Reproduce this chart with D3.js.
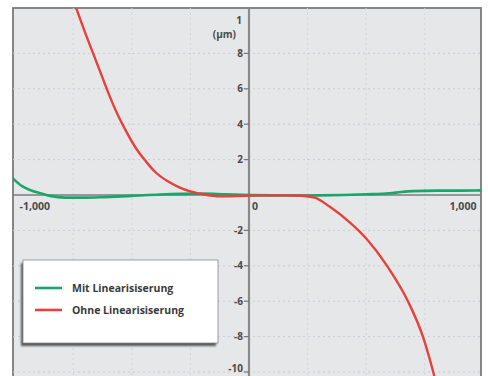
<!DOCTYPE html>
<html><head><meta charset="utf-8">
<script src="https://cdn.jsdelivr.net/npm/d3@7"></script>
<style>body{margin:0;background:#fff}svg{display:block}</style>
</head><body>
<svg id="c" width="488" height="376"></svg>
<script>
const seriesNames = ["Mit Linearisiserung", "Ohne Linearisiserung"];
const seriesColors = ["#1aa56a", "#e8403a"];
const greenX = [-1010,-968,-934,-891,-849,-785,-700,-620,-500,-380,-200,-100,0,100,200,300,400,500,600,650,700,800,900,1000];
const greenY = [0.97,0.5,0.28,0.1,-0.05,-0.15,-0.15,-0.12,-0.05,0.03,0.08,0.04,0,-0.02,-0.03,-0.02,0,0.04,0.1,0.17,0.22,0.25,0.25,0.26];
const redX = [-770,-733,-700,-665,-630,-595,-559,-520,-480,-440,-400,-350,-300,-250,-200,-124,0,150,220,280,345,431,503,589,678,742,780,805];
const redY = [11.8,10.4,9.2,8.0,6.8,5.6,4.5,3.5,2.6,1.9,1.3,0.8,0.45,0.2,0.05,-0.08,-0.04,-0.02,-0.04,-0.15,-0.67,-1.56,-2.5,-4,-6,-8,-9.7,-11.0];
const yTicks = [8,6,4,2,-2,-4,-6,-8,-10];
const xGrid = [-750,-500,-250,250,500,750];
const xLabels = [{v:-1000,t:"-1,000"},{v:0,t:"0"},{v:1000,t:"1,000"}];
const unitLabel = "(µm)";
const topLabel = "1";

const svg = d3.select("#c");
const L=13, R=481, T=8, B=378;
const x = d3.scaleLinear().domain([-1000,1000]).range([14.6,483.4]);
const y = d3.scaleLinear().domain([0,-10]).range([195,372]);

const defs = svg.append("defs");
defs.append("clipPath").attr("id","pc")
  .append("rect").attr("x",L).attr("y",T).attr("width",R-L).attr("height",B-T);

svg.append("rect").attr("x",L).attr("y",T).attr("width",R-L).attr("height",B-T)
  .attr("fill","#e6e7e9").attr("stroke","#7a7a7a").attr("stroke-width",1.8);

const g = svg.append("g").attr("clip-path","url(#pc)");
g.selectAll(".hg").data(yTicks).join("line")
  .attr("x1",L).attr("x2",R).attr("y1",d=>y(d)).attr("y2",d=>y(d))
  .attr("stroke","#c9ccd0").attr("stroke-width",1).attr("stroke-dasharray","2,3");
g.selectAll(".vg").data(xGrid).join("line")
  .attr("x1",d=>x(d)).attr("x2",d=>x(d)).attr("y1",T).attr("y2",B)
  .attr("stroke","#d2d4d8").attr("stroke-width",1).attr("stroke-dasharray","2,3");

g.append("line").attr("x1",L).attr("x2",R).attr("y1",y(0)).attr("y2",y(0))
  .attr("stroke","#7d7d7d").attr("stroke-width",1.5);
g.append("line").attr("x1",x(0)).attr("x2",x(0)).attr("y1",T).attr("y2",B)
  .attr("stroke","#8a8a8a").attr("stroke-width",2.2);

g.selectAll(".yt").data(yTicks).join("line")
  .attr("x1",x(0)-5).attr("x2",x(0)).attr("y1",d=>y(d)).attr("y2",d=>y(d))
  .attr("stroke","#777").attr("stroke-width",1.2);

const font = "'Open Sans', 'DejaVu Sans', sans-serif";
svg.selectAll(".yl").data(yTicks).join("text")
  .attr("x",x(0)-6).attr("y",d=>Math.min(y(d),368)).attr("dy","0.35em")
  .attr("text-anchor","end").attr("font-family",font).attr("font-weight","bold")
  .attr("font-size",10).attr("fill","#4a4a4a").text(d=>d);
svg.append("text").attr("x",x(0)-13).attr("y",38).attr("text-anchor","end")
  .attr("font-family",font).attr("font-weight","bold").attr("font-size",10).attr("fill","#4a4a4a").text(unitLabel);
svg.append("text").attr("x",x(0)-7).attr("y",24).attr("text-anchor","end")
  .attr("font-family",font).attr("font-weight","bold").attr("font-size",10).attr("fill","#4a4a4a").text(topLabel);

svg.selectAll(".xl").data(xLabels).join("text")
  .attr("x",d=>d.v<0? x(d.v)+5 : d.v>0 ? x(d.v)-7 : x(d.v)+3)
  .attr("y",y(0)+15)
  .attr("text-anchor",d=>d.v>0?"end":"start")
  .attr("font-family",font).attr("font-weight","bold").attr("font-size",10.5).attr("fill","#4a4a4a").text(d=>d.t);

const line = d3.line().x(d=>x(d[0])).y(d=>y(d[1])).curve(d3.curveMonotoneX);
g.append("path").datum(greenX.map((v,i)=>[v,greenY[i]]))
  .attr("d",line).attr("fill","none").attr("stroke",seriesColors[0]).attr("stroke-width",2.6);
g.append("path").datum(redX.map((v,i)=>[v,redY[i]]))
  .attr("d",line).attr("fill","none").attr("stroke",seriesColors[1]).attr("stroke-width",2.4);

const lg = svg.append("g");
const f = defs.append("filter").attr("id","sh").attr("x","-20%").attr("y","-20%").attr("width","140%").attr("height","140%");
f.append("feGaussianBlur").attr("stdDeviation",1.2);
lg.append("rect").attr("x",21).attr("y",263).attr("width",195).attr("height",83)
  .attr("fill","#555").attr("filter","url(#sh)");
lg.append("rect").attr("x",23).attr("y",260).attr("width",195).attr("height",83)
  .attr("fill","#fff").attr("stroke","#888").attr("stroke-width",0.8);
seriesNames.forEach((n,i)=>{
  const yy = 288 + i*22;
  lg.append("line").attr("x1",35).attr("x2",62).attr("y1",yy).attr("y2",yy)
    .attr("stroke",seriesColors[i]).attr("stroke-width",2.6);
  lg.append("text").attr("x",72).attr("y",yy).attr("dy","0.35em")
    .attr("font-family",font).attr("font-weight","bold").attr("font-size",10.5).attr("fill","#3a3a3a").text(n);
});
</script>
</body></html>
